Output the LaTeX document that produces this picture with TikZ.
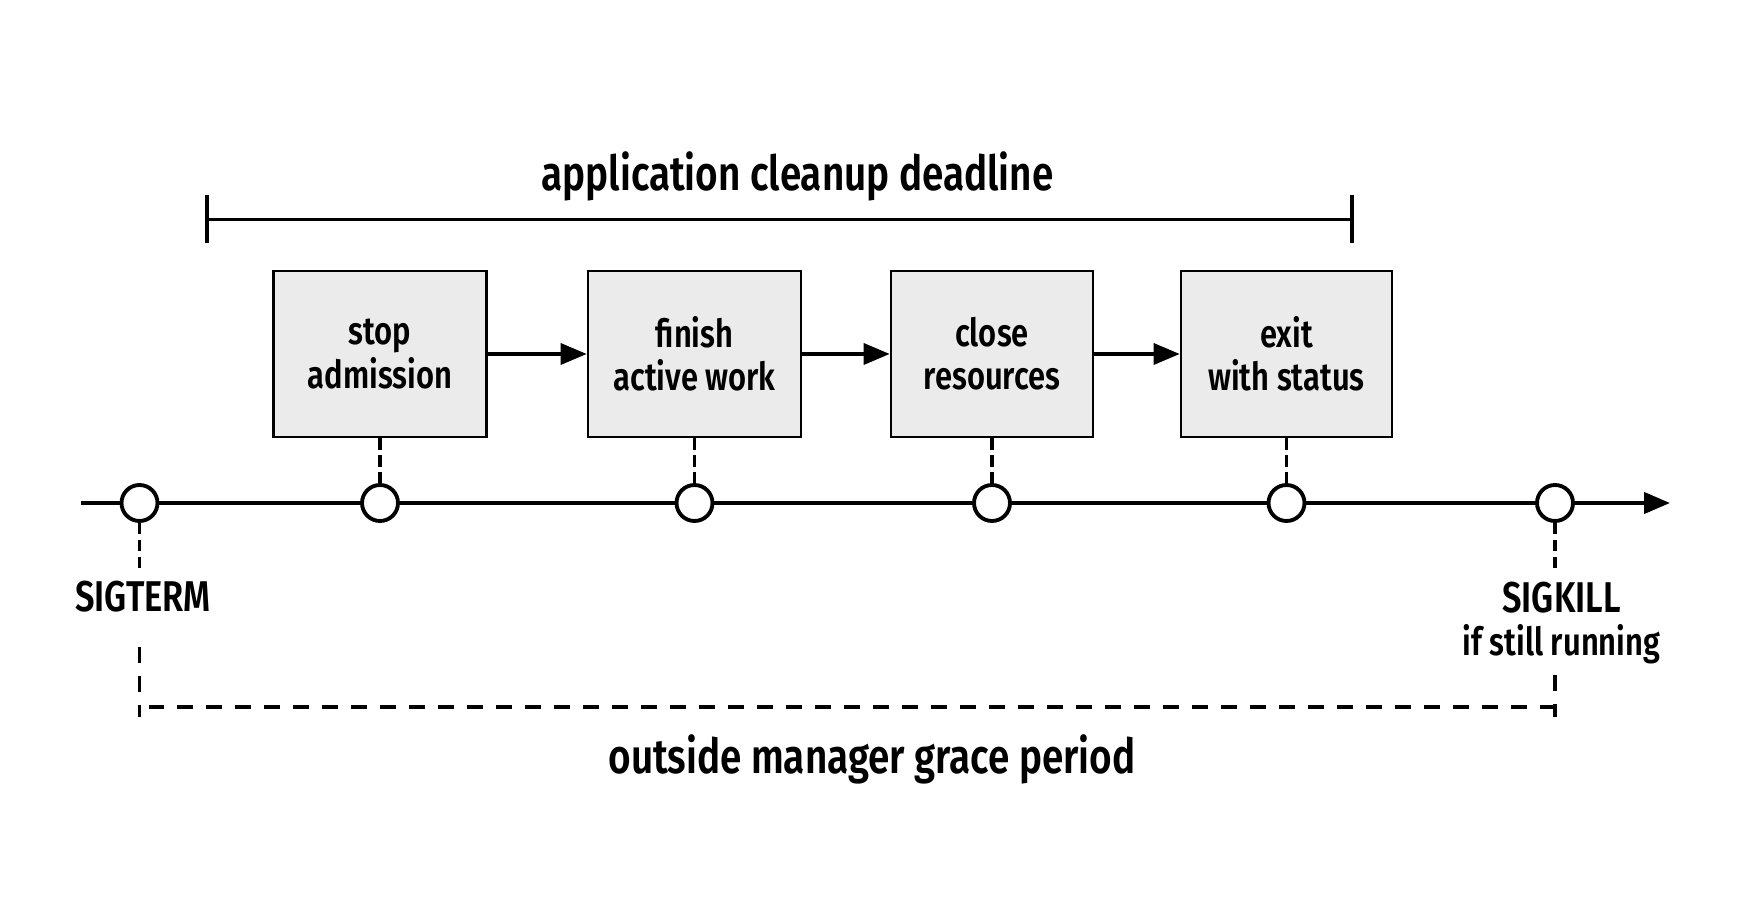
\documentclass[tikz,border=0pt]{standalone}
\usepackage{fontspec}
\setmainfont{Fira Sans}[FakeStretch=0.8, UprightFont=* SemiBold]
\usepackage{tikz}
\usetikzlibrary{arrows.meta,calc,positioning}
\definecolor{stepfill}{RGB}{235,235,235}

\begin{document}
\begin{tikzpicture}[
  every node/.style={font=\fontsize{22}{24.5}\selectfont},
  stepbox/.style={draw, line width=1.5pt, fill=stepfill, minimum height=3.32cm, align=center, inner sep=0pt},
  eventdot/.style={circle, draw, line width=2.2pt, fill=white, minimum size=0.72cm, inner sep=0pt},
  guide/.style={line width=1.8pt, dash pattern=on 6.5pt off 3.2pt},
  bracket/.style={line width=2.2pt, dash pattern=on 8.9pt off 7.6pt},
  flow/.style={line width=1.8pt, -{Triangle[length=14.8pt, width=12pt]}},
  bigtext/.style={font=\fontsize{27.5}{30}\selectfont},
  sigtext/.style={font=\fontsize{24.5}{27}\selectfont}]
  \useasboundingbox (0,0) rectangle (34.98,17.98);
  % cleanup deadline bar
  \coordinate (dlL) at (4.10,13.59);
  \coordinate (dlR) at (27.08,13.59);
  \draw[line width=2.2pt, {Bar[width=0.96cm]}-{Bar[width=0.96cm]}] (dlL) -- (dlR);
  \node[bigtext] (deadline) at (15.95,14.46) {application cleanup deadline};
  % shutdown steps
  \node[stepbox, minimum width=4.26cm] (stop)   at (7.60,10.90)  {stop\\admission};
  \node[stepbox, minimum width=4.26cm] (finish) at (13.89,10.90) {finish\\active work};
  \node[stepbox, minimum width=4.04cm] (close)  at (19.84,10.90) {close\\resources};
  \node[stepbox, minimum width=4.22cm] (exit)   at (25.73,10.90) {exit\\with status};
  \draw[flow] (stop) -- (finish);
  \draw[flow] (finish) -- (close);
  \draw[flow] (close) -- (exit);
  % time axis
  \coordinate (axisL) at (1.61,7.92);
  \coordinate (axisR) at (33.40,7.92);
  \draw[line width=2.3pt, -{Triangle[length=14.8pt, width=12pt]}] (axisL) -- (axisR);
  \node[eventdot] (term) at (2.79,7.92) {};
  \node[eventdot] (kill) at (31.10,7.92) {};
  \foreach \s in {stop,finish,close,exit}{
    \node[eventdot] (t\s) at (\s |- axisL) {};
    \draw[guide] (\s.south) -- (t\s.north);
  }
  % signals
  \node[sigtext] (termtext) at (2.86,6.05) {SIGTERM};
  \node[align=center] (killtext) at (31.23,5.52) {{\fontsize{24.5}{27}\selectfont SIGKILL}\\if still running};
  \coordinate (termstop) at (2.79,6.54);
  \coordinate (killstop) at (31.10,6.56);
  \draw[guide] (term.south) -- (termstop);
  \draw[guide] (kill.south) -- (killstop);
  % grace period bracket
  \coordinate (graceLtop) at (2.79,5.04);
  \coordinate (graceRtop) at (31.10,4.48);
  \coordinate (graceL) at (2.79,3.64);
  \coordinate (graceR) at (31.10,3.64);
  \draw[bracket] (graceLtop) -- (graceL);
  \draw[bracket] (graceRtop) -- (graceR);
  \draw[bracket] ($(graceL)+(0.18,0.2)$) -- ($(graceR)+(0,0.2)$);
  \node[bigtext] (grace) at (17.44,2.79) {outside manager grace period};
\end{tikzpicture}
\end{document}
